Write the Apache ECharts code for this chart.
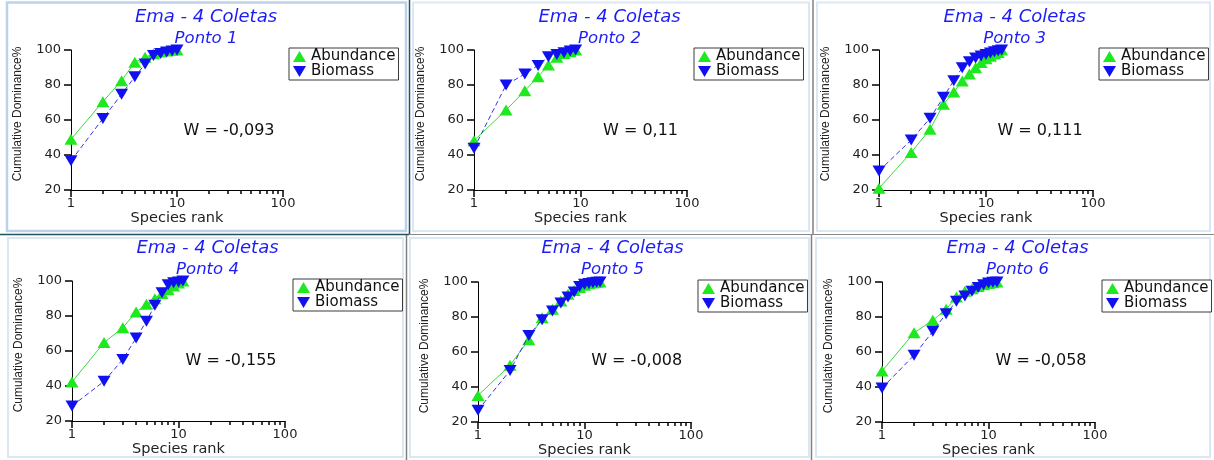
<!DOCTYPE html>
<html>
<head>
<meta charset="utf-8">
<script src="https://cdn.jsdelivr.net/npm/echarts/dist/echarts.min.js"></script>
<style>
html,body{margin:0;padding:0;background:#fff;}
#chart{width:1214px;height:460px;}
</style>
</head>
<body>
<div id="chart"></div>
<script>
// ---- data (cumulative dominance %, by species rank 1..n) ----
var mainTitle = 'Ema - 4 Coletas';
var pointNames = ['Ponto 1', 'Ponto 2', 'Ponto 3', 'Ponto 4', 'Ponto 5', 'Ponto 6'];
var wLabels = ['W = -0,093', 'W = 0,11', 'W = 0,111', 'W = -0,155', 'W = -0,008', 'W = -0,058'];
var seriesNames = ['Abundance', 'Biomass'];

var abund1 = [49, 70.5, 82.5, 93, 95.8, 97.8, 98.8, 99.4, 99.8, 100];
var bio1   = [36.7, 60.8, 74.7, 84.7, 92, 96.8, 98, 98.8, 99.5, 100];
var abund2 = [48.2, 65.7, 76.7, 84.7, 91.4, 95.8, 98, 99, 100];
var bio2   = [43.8, 80, 86.3, 91.2, 96.2, 97.5, 98.5, 99.5, 100];
var abund3 = [21, 41.5, 54.7, 69, 76, 82.3, 86.3, 89.9, 92.8, 95, 96.5, 97.7, 98.6, 100];
var bio3   = [30.9, 48.6, 61, 73, 82.5, 89.9, 93.3, 95.5, 96.6, 97.5, 98.3, 99, 99.6, 100];
var abund4 = [42.3, 64.8, 73.3, 82.3, 86.7, 89.9, 92.8, 95, 97.1, 98.9, 100];
var bio4   = [28.6, 42.7, 55.2, 67.4, 77, 86.1, 93.3, 97.9, 99, 99.5, 100];
var abund5 = [35.2, 52.4, 67, 79.6, 84.4, 89.1, 93, 95.2, 96.8, 98.1, 99, 99.5, 99.8, 100];
var bio5   = [26.7, 49.5, 69.5, 78.5, 83.4, 88, 91.4, 94.3, 97.5, 98.7, 99.2, 99.6, 99.9, 100];
var abund6 = [49.1, 71, 78.1, 84.4, 91.4, 94.7, 96.2, 97.5, 98.5, 99.1, 99.6, 100];
var bio6   = [39.4, 58.1, 71.8, 81.9, 89, 92, 94.7, 96.8, 98.5, 99.4, 99.8, 100];

var yTicks = [20, 40, 60, 80, 100];
var xMajor = [1, 10, 100];

var abundAll = [abund1, abund2, abund3, abund4, abund5, abund6];
var bioAll = [bio1, bio2, bio3, bio4, bio5, bio6];

// ---- layout ----
var layout = [
  {gx: 71,  gy: 50,  w: 212, h: 140, tx: 206,   t1: 17.5,  t2: 38.5,  lx: 289,  ly: 48,  wx: 229,   wy: 130.5},
  {gx: 474, gy: 50,  w: 213, h: 140, tx: 609.5, t1: 17.5,  t2: 38.5,  lx: 694,  ly: 48,  wx: 640.5, wy: 131},
  {gx: 879, gy: 50,  w: 214, h: 140, tx: 1014.7,t1: 17.5,  t2: 38.5,  lx: 1099, ly: 48,  wx: 1040,  wy: 131},
  {gx: 72,  gy: 281, w: 213, h: 140, tx: 207.5, t1: 248.3, t2: 269.3, lx: 293,  ly: 279, wx: 231,   wy: 360.5},
  {gx: 478, gy: 282, w: 213, h: 140, tx: 612.5, t1: 248.3, t2: 269.3, lx: 698,  ly: 280, wx: 636.7, wy: 361},
  {gx: 882, gy: 282, w: 213, h: 140, tx: 1017.5,t1: 248.3, t2: 269.3, lx: 1102, ly: 280, wx: 1041,  wy: 361}
];

var GREEN = '#1ee81e', GREEN_LINE = '#3ada3a';
var BLUE = '#1010f0', BLUE_LINE = '#3434e8';
var TITLE_BLUE = '#1c1cf5';

var grids = [], xAxes = [], yAxes = [], series = [], legends = [], graphics = [];

// panel frames & dividers
var frames = [
  {x: 7,   y: 2.5, w: 399, h: 228.5, c: '#bcd2eb', lw: 2.5},
  {x: 413, y: 2.5, w: 396, h: 228.5, c: '#dce7f4', lw: 2},
  {x: 817, y: 2.5, w: 393, h: 228.5, c: '#dce7f4', lw: 2},
  {x: 8,   y: 238, w: 395, h: 219, c: '#dce7f4', lw: 2},
  {x: 410, y: 238, w: 399, h: 219, c: '#dce7f4', lw: 2},
  {x: 816, y: 238, w: 394, h: 219, c: '#dce7f4', lw: 2}
];
frames.forEach(function (f) {
  graphics.push({type: 'rect', z: -1, shape: {x: f.x, y: f.y, width: f.w, height: f.h},
    style: {fill: null, stroke: f.c, lineWidth: f.lw}});
});
var dividers = [
  [409.5, 0, 409.5, 234, '#23535c', 1.5],
  [813, 0, 813, 234, '#808080', 1.5],
  [406.5, 234, 406.5, 460, '#808080', 1.5],
  [811.5, 234, 811.5, 460, '#808080', 1.5],
  [0, 234.5, 409, 234.5, '#23535c', 1.5],
  [409, 234.5, 1214, 234.5, '#8a8a8a', 1.2]
];
dividers.forEach(function (d) {
  graphics.push({type: 'line', z: -1, shape: {x1: d[0], y1: d[1], x2: d[2], y2: d[3]},
    style: {stroke: d[4], lineWidth: d[5]}});
});

layout.forEach(function (p, i) {
  grids.push({left: p.gx, top: p.gy, width: p.w, height: p.h, containLabel: false});

  xAxes.push({
    type: 'log', logBase: 10, min: 1, max: 100, gridIndex: i, position: 'bottom',
    name: 'Species rank', nameLocation: 'middle', nameGap: 19,
    nameTextStyle: {fontFamily: 'DejaVu Sans', fontSize: 14.5, color: '#222'},
    axisLine: {show: true, lineStyle: {color: '#000', width: 1}},
    axisTick: {show: true, length: 7, inside: false, lineStyle: {color: '#000', width: 1.5}},
    minorTick: {show: true, splitNumber: 9, length: 4, lineStyle: {color: '#000', width: 1.5}},
    axisLabel: {customValues: xMajor, margin: 7, fontFamily: 'DejaVu Sans', fontSize: 13, color: '#222',
      formatter: function (v) { return String(Math.round(v)); }},
    splitLine: {show: false}, minorSplitLine: {show: false}
  });

  yAxes.push({
    type: 'value', min: 20, max: 100, interval: 20, gridIndex: i,
    name: 'Cumulative Dominance%', nameLocation: 'middle', nameGap: 47, nameRotate: 90,
    nameTextStyle: {fontFamily: 'Liberation Sans', fontSize: 12, color: '#222', padding: [0, 0, 0, 12]},
    axisLine: {show: true, lineStyle: {color: '#000', width: 1}},
    axisTick: {show: true, length: 7, lineStyle: {color: '#000', width: 1.5}},
    axisLabel: {margin: 10, fontFamily: 'DejaVu Sans', fontSize: 13, color: '#222',
      customValues: yTicks},
    splitLine: {show: false}
  });

  series.push({
    name: seriesNames[0], type: 'line', xAxisIndex: i, yAxisIndex: i,
    data: abundAll[i].map(function (v, k) { return [k + 1, v]; }),
    symbol: 'triangle', symbolSize: [13, 11],
    itemStyle: {color: GREEN},
    lineStyle: {color: GREEN_LINE, width: 1, type: 'solid'},
    emphasis: {disabled: true}, z: 2
  });
  series.push({
    name: seriesNames[1], type: 'line', xAxisIndex: i, yAxisIndex: i,
    data: bioAll[i].map(function (v, k) { return [k + 1, v]; }),
    symbol: 'triangle', symbolSize: [13, 11], symbolRotate: 180,
    itemStyle: {color: BLUE},
    lineStyle: {color: BLUE_LINE, width: 1, type: [5, 3]},
    emphasis: {disabled: true}, z: 3
  });

  legends.push({
    left: p.lx, top: p.ly, orient: 'vertical', selectedMode: false,
    data: [
      {name: seriesNames[0], icon: 'triangle'},
      {name: seriesNames[1], icon: 'path://M0,0L12,0L6,10Z'}
    ],
    itemWidth: 13, itemHeight: 11, itemGap: 0,
    padding: [1, 3, 1, 4],
    borderColor: '#3a3a3a', borderWidth: 1, backgroundColor: '#fff',
    textStyle: {fontFamily: 'DejaVu Sans', fontSize: 15, color: '#111', lineHeight: 15}
  });

  graphics.push({type: 'text', x: p.tx, y: p.t1, z: 10,
    style: {text: mainTitle, fill: TITLE_BLUE, fontFamily: 'DejaVu Sans', fontStyle: 'italic', fontSize: 18,
      align: 'center', verticalAlign: 'middle', textAlign: 'center', textVerticalAlign: 'middle'}});
  graphics.push({type: 'text', x: p.tx, y: p.t2, z: 10,
    style: {text: pointNames[i], fill: TITLE_BLUE, fontFamily: 'DejaVu Sans', fontStyle: 'italic', fontSize: 16.5,
      align: 'center', verticalAlign: 'middle', textAlign: 'center', textVerticalAlign: 'middle'}});
  graphics.push({type: 'text', x: p.wx, y: p.wy, z: 10,
    style: {text: wLabels[i], fill: '#111', fontFamily: 'DejaVu Sans', fontSize: 16,
      align: 'center', verticalAlign: 'middle', textAlign: 'center', textVerticalAlign: 'middle'}});
});

var chart = echarts.init(document.getElementById('chart'), null, {renderer: 'canvas'});
chart.setOption({
  animation: false,
  backgroundColor: '#fff',
  grid: grids,
  xAxis: xAxes,
  yAxis: yAxes,
  legend: legends,
  series: series,
  graphic: {elements: graphics}
});
</script>
</body>
</html>
